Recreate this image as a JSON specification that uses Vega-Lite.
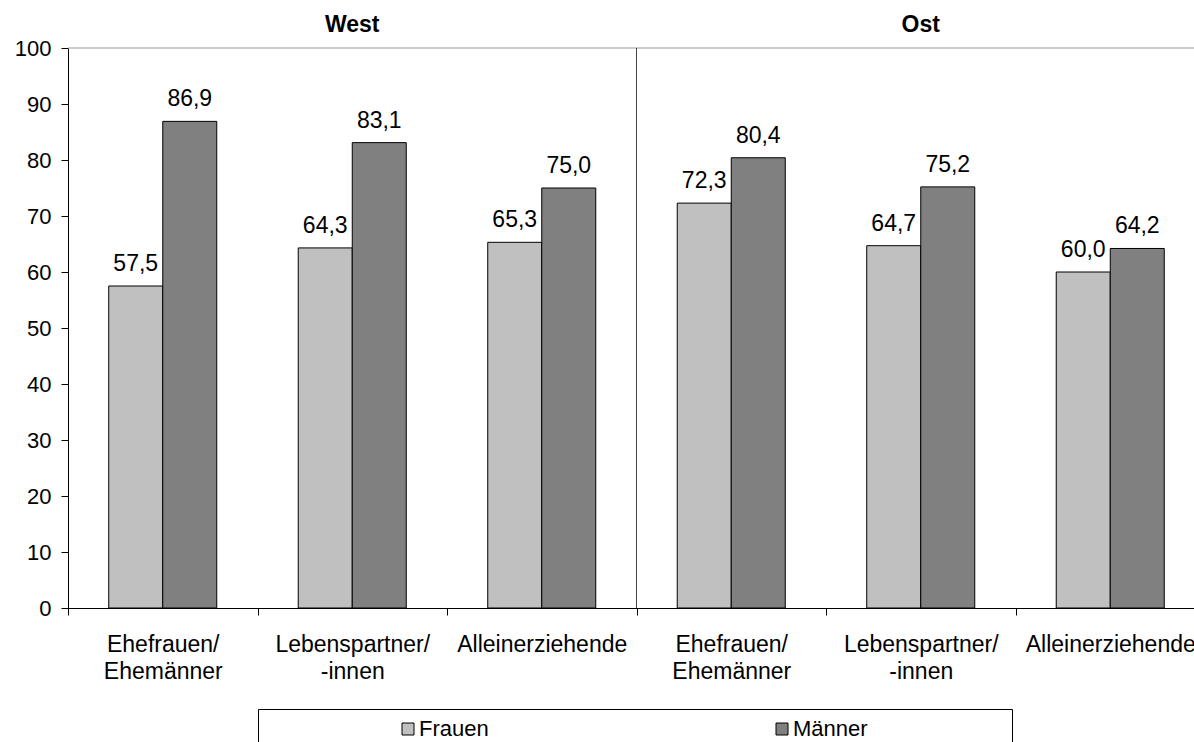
{
  "$schema": "https://vega.github.io/schema/vega-lite/v6.json",
  "width": 1126,
  "height": 560,
  "autosize": {"type": "none"},
  "padding": {"left": 68, "top": 48, "right": 0, "bottom": 134},
  "background": "white",
  "config": {"view": {"stroke": null}, "font": "Liberation Sans"},
  "datasets": {
    "main": [
      {"g": "West: Ehefrauen/Ehemänner", "sex": "Frauen", "value": 57.5},
      {"g": "West: Ehefrauen/Ehemänner", "sex": "Männer", "value": 86.9},
      {"g": "West: Lebenspartner/-innen", "sex": "Frauen", "value": 64.3},
      {"g": "West: Lebenspartner/-innen", "sex": "Männer", "value": 83.1},
      {"g": "West: Alleinerziehende", "sex": "Frauen", "value": 65.3},
      {"g": "West: Alleinerziehende", "sex": "Männer", "value": 75.0},
      {"g": "Ost: Ehefrauen/Ehemänner", "sex": "Frauen", "value": 72.3},
      {"g": "Ost: Ehefrauen/Ehemänner", "sex": "Männer", "value": 80.4},
      {"g": "Ost: Lebenspartner/-innen", "sex": "Frauen", "value": 64.7},
      {"g": "Ost: Lebenspartner/-innen", "sex": "Männer", "value": 75.2},
      {"g": "Ost: Alleinerziehende", "sex": "Frauen", "value": 60.0},
      {"g": "Ost: Alleinerziehende", "sex": "Männer", "value": 64.2}
    ],
    "titles": [
      {"g": "West: Lebenspartner/-innen", "t": "West"},
      {"g": "Ost: Lebenspartner/-innen", "t": "Ost"}
    ],
    "divider": [{"g": "Ost: Ehefrauen/Ehemänner"}],
    "one": [{"k": 1}]
  },
  "layer": [
    {
      "data": {"name": "main"},
      "mark": {"type": "bar", "stroke": "black", "strokeWidth": 1},
      "encoding": {
        "x": {
          "field": "g", "type": "nominal",
          "scale": {
            "domain": ["West: Ehefrauen/Ehemänner", "West: Lebenspartner/-innen", "West: Alleinerziehende", "Ost: Ehefrauen/Ehemänner", "Ost: Lebenspartner/-innen", "Ost: Alleinerziehende"],
            "range": [0, 1137], "paddingInner": 0, "paddingOuter": 0
          },
          "axis": {
            "title": null, "labelAngle": 0, "domainColor": "black", "tickColor": "black",
            "tickSize": 7, "tickBand": "extent", "labelFontSize": 23, "labelLineHeight": 27,
            "labelPadding": 18, "labelColor": "black", "labelLimit": 0,
            "labelExpr": "test(/Ehefrauen/, datum.value) ? ['Ehefrauen/', 'Ehemänner'] : test(/Lebens/, datum.value) ? ['Lebenspartner/', '-innen'] : test(/Allein/, datum.value) ? 'Alleinerziehende' : ''"
          }
        },
        "xOffset": {
          "field": "sex", "type": "nominal",
          "scale": {"domain": ["Frauen", "Männer"], "paddingOuter": 0.7546, "paddingInner": 0}
        },
        "y": {
          "field": "value", "type": "quantitative",
          "scale": {"domain": [0, 100], "nice": false},
          "axis": {
            "title": null, "grid": false, "values": [0, 10, 20, 30, 40, 50, 60, 70, 80, 90, 100],
            "domainColor": "black", "tickColor": "black", "tickSize": 7,
            "labelFontSize": 22, "labelColor": "black", "labelPadding": 10
          }
        },
        "color": {
          "field": "sex", "type": "nominal",
          "scale": {"domain": ["Frauen", "Männer"], "range": ["#c0c0c0", "#808080"]},
          "legend": {
            "orient": "none", "legendX": 190, "legendY": 661, "direction": "horizontal",
            "title": " ", "titleOrient": "right", "titlePadding": 135,
            "symbolType": "square", "symbolSize": 144,
            "symbolStrokeColor": "black", "symbolStrokeWidth": 1, "symbolOpacity": 1,
            "symbolOffset": 130, "labelOffset": 0,
            "labelFontSize": 22, "labelColor": "black",
            "columnPadding": 152, "padding": 9, "strokeColor": "black"
          }
        }
      }
    },
    {
      "data": {"name": "main"},
      "transform": [{"calculate": "replace(format(datum.value, '.1f'), '.', ',')", "as": "lab"}],
      "mark": {"type": "text", "baseline": "alphabetic", "dy": -15, "fontSize": 23, "color": "black"},
      "encoding": {
        "x": {"field": "g", "type": "nominal"},
        "xOffset": {"field": "sex", "type": "nominal"},
        "y": {"field": "value", "type": "quantitative"},
        "text": {"field": "lab"}
      }
    },
    {
      "data": {"name": "one"},
      "mark": {"type": "rule", "color": "#999999", "strokeWidth": 1},
      "encoding": {"y": {"datum": 100}}
    },
    {
      "data": {"name": "divider"},
      "mark": {"type": "rule", "color": "#444444", "strokeWidth": 1},
      "encoding": {
        "x": {"field": "g", "type": "nominal", "bandPosition": 0},
        "y": {"datum": 0},
        "y2": {"datum": 100}
      }
    },
    {
      "data": {"name": "titles"},
      "mark": {"type": "text", "baseline": "alphabetic", "fontSize": 23, "fontWeight": "bold", "color": "black"},
      "encoding": {
        "x": {"field": "g", "type": "nominal"},
        "y": {"datum": 102.86},
        "text": {"field": "t"}
      }
    }
  ]
}
